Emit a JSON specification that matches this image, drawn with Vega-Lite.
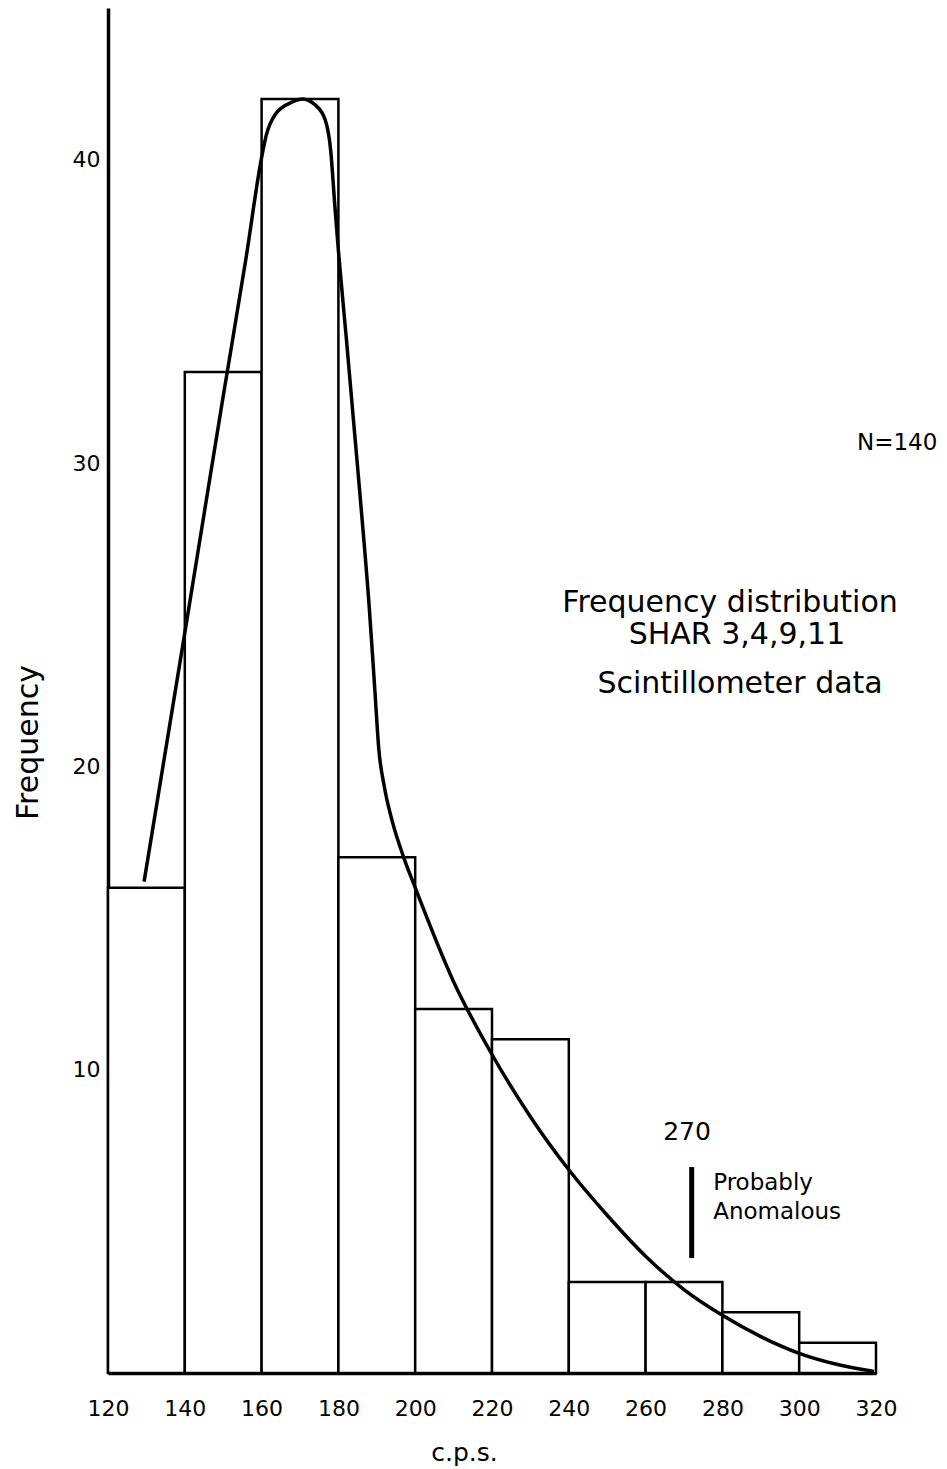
{
  "$schema": "https://vega.github.io/schema/vega-lite/v6.json",
  "width": 768,
  "height": 1365,
  "autosize": {"type": "none"},
  "padding": {"left": 108, "top": 8, "right": 71, "bottom": 96},
  "background": "white",
  "config": {"view": {"stroke": null}, "font": "DejaVu Sans"},
  "datasets": {
    "bins": [
      {"bin_start": 120, "bin_end": 140, "frequency": 16},
      {"bin_start": 140, "bin_end": 160, "frequency": 33},
      {"bin_start": 160, "bin_end": 180, "frequency": 42},
      {"bin_start": 180, "bin_end": 200, "frequency": 17},
      {"bin_start": 200, "bin_end": 220, "frequency": 12},
      {"bin_start": 220, "bin_end": 240, "frequency": 11},
      {"bin_start": 240, "bin_end": 260, "frequency": 3},
      {"bin_start": 260, "bin_end": 280, "frequency": 3},
      {"bin_start": 280, "bin_end": 300, "frequency": 2},
      {"bin_start": 300, "bin_end": 320, "frequency": 1}
    ],
    "curve": [
      {"cps": 129.4, "fit": 16.2},
      {"cps": 140, "fit": 24.4},
      {"cps": 150, "fit": 32.2},
      {"cps": 156, "fit": 36.8},
      {"cps": 159.9, "fit": 40.0},
      {"cps": 161.2, "fit": 40.8},
      {"cps": 163.6, "fit": 41.5},
      {"cps": 168, "fit": 41.9},
      {"cps": 170.6, "fit": 42.0},
      {"cps": 174, "fit": 41.8},
      {"cps": 176.6, "fit": 41.3},
      {"cps": 178, "fit": 40.3},
      {"cps": 179, "fit": 38.6},
      {"cps": 180, "fit": 37.0},
      {"cps": 182, "fit": 34.2},
      {"cps": 184, "fit": 31.3},
      {"cps": 186, "fit": 28.4},
      {"cps": 188, "fit": 25.3},
      {"cps": 189.5, "fit": 22.5},
      {"cps": 190.5, "fit": 20.6},
      {"cps": 192, "fit": 19.3},
      {"cps": 194, "fit": 18.2},
      {"cps": 197, "fit": 17.0},
      {"cps": 200, "fit": 16.0},
      {"cps": 210, "fit": 12.9},
      {"cps": 220, "fit": 10.5},
      {"cps": 230, "fit": 8.45},
      {"cps": 240, "fit": 6.7},
      {"cps": 250, "fit": 5.2},
      {"cps": 260, "fit": 3.85},
      {"cps": 270, "fit": 2.75},
      {"cps": 280, "fit": 1.9},
      {"cps": 290, "fit": 1.2},
      {"cps": 300, "fit": 0.65},
      {"cps": 310, "fit": 0.28},
      {"cps": 319.5, "fit": 0.05}
    ],
    "titleblock": [
      {"x": 282.0, "y": 25.38, "label": "Frequency distribution"},
      {"x": 283.8, "y": 24.33, "label": "SHAR 3,4,9,11"},
      {"x": 284.6, "y": 22.71, "label": "Scintillometer data"}
    ],
    "ncount": [
      {"x": 325.5, "y": 30.66, "label": "N=140"}
    ],
    "anomaly_value": [
      {"x": 270.8, "y": 7.94, "label": "270"}
    ],
    "anomaly_bar": [
      {"x": 272, "y": 6.79, "y2": 3.79}
    ],
    "anomaly_note": [
      {"x": 277.6, "y": 6.26, "label": "Probably"},
      {"x": 277.6, "y": 5.31, "label": "Anomalous"}
    ]
  },
  "layer": [
    {
      "data": {"name": "bins"},
      "mark": {"type": "rect", "fill": "white", "stroke": "black", "strokeWidth": 2.5},
      "encoding": {
        "x": {
          "field": "bin_start", "type": "quantitative", "title": "c.p.s.",
          "scale": {"domain": [120, 320], "nice": false, "zero": false},
          "axis": {
            "values": [120, 140, 160, 180, 200, 220, 240, 260, 280, 300, 320],
            "format": "d", "ticks": false, "grid": false,
            "domainColor": "black", "domainWidth": 3.5,
            "labelFontSize": 22, "labelColor": "black", "labelBaseline": "alphabetic",
            "labelPadding": 42, "labelFlush": false, "labelOverlap": false,
            "titleFontSize": 25, "titleFontWeight": "normal", "titleColor": "black",
            "titleX": 356, "titleY": 87, "titleAlign": "center", "titleBaseline": "alphabetic"
          }
        },
        "x2": {"field": "bin_end"},
        "y": {
          "field": "frequency", "type": "quantitative", "title": "Frequency",
          "scale": {"domain": [0, 45], "nice": false},
          "axis": {
            "values": [10, 20, 30, 40], "ticks": false, "grid": false,
            "domainColor": "black", "domainWidth": 3.5,
            "labelFontSize": 22, "labelColor": "black", "labelPadding": 8,
            "titleFontSize": 30, "titleFontWeight": "normal", "titleColor": "black",
            "titleX": -71, "titleY": 734, "titleAlign": "center", "titleBaseline": "alphabetic"
          }
        },
        "y2": {"datum": 0}
      }
    },
    {
      "data": {"name": "curve"},
      "mark": {"type": "line", "color": "black", "strokeWidth": 3.5, "interpolate": "monotone"},
      "encoding": {
        "x": {"field": "cps", "type": "quantitative", "title": "c.p.s."},
        "y": {"field": "fit", "type": "quantitative", "title": "Frequency"}
      }
    },
    {
      "data": {"name": "titleblock"},
      "mark": {"type": "text", "fontSize": 30, "align": "center", "baseline": "middle", "color": "black"},
      "encoding": {
        "x": {"field": "x", "type": "quantitative", "title": "c.p.s."},
        "y": {"field": "y", "type": "quantitative", "title": "Frequency"},
        "text": {"field": "label"}
      }
    },
    {
      "data": {"name": "ncount"},
      "mark": {"type": "text", "fontSize": 23, "align": "center", "baseline": "middle", "color": "black"},
      "encoding": {
        "x": {"field": "x", "type": "quantitative", "title": "c.p.s."},
        "y": {"field": "y", "type": "quantitative", "title": "Frequency"},
        "text": {"field": "label"}
      }
    },
    {
      "data": {"name": "anomaly_value"},
      "mark": {"type": "text", "fontSize": 25, "align": "center", "baseline": "middle", "color": "black"},
      "encoding": {
        "x": {"field": "x", "type": "quantitative", "title": "c.p.s."},
        "y": {"field": "y", "type": "quantitative", "title": "Frequency"},
        "text": {"field": "label"}
      }
    },
    {
      "data": {"name": "anomaly_bar"},
      "mark": {"type": "rule", "color": "black", "strokeWidth": 5},
      "encoding": {
        "x": {"field": "x", "type": "quantitative", "title": "c.p.s."},
        "y": {"field": "y", "type": "quantitative", "title": "Frequency"},
        "y2": {"field": "y2"}
      }
    },
    {
      "data": {"name": "anomaly_note"},
      "mark": {"type": "text", "fontSize": 23, "align": "left", "baseline": "middle", "color": "black"},
      "encoding": {
        "x": {"field": "x", "type": "quantitative", "title": "c.p.s."},
        "y": {"field": "y", "type": "quantitative", "title": "Frequency"},
        "text": {"field": "label"}
      }
    }
  ]
}
